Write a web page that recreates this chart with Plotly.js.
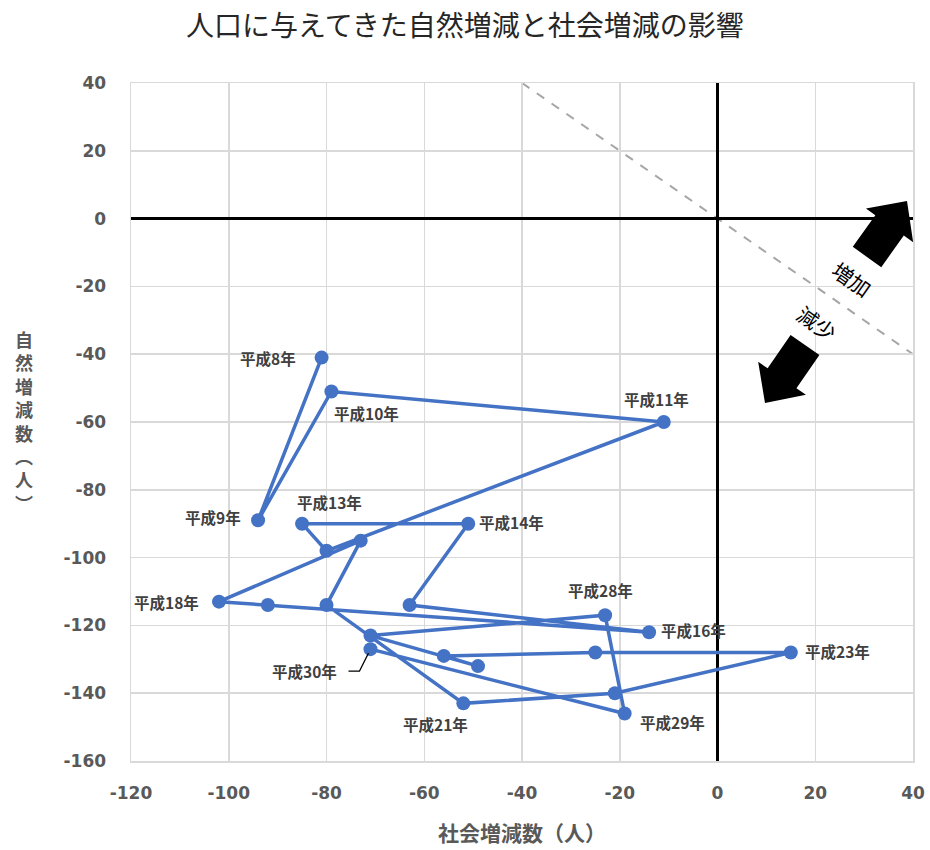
<!DOCTYPE html>
<html>
<head>
<meta charset="utf-8">
<script src="https://cdn.plot.ly/plotly-3.0.1.min.js"></script>
<style>
  html, body { margin: 0; padding: 0; background: #ffffff; }
  #chart { width: 930px; height: 850px; }
</style>
</head>
<body>
<div id="chart"></div>
<script>
// ---- data ----
const years = ['平成8年','平成9年','平成10年','平成11年','平成12年','平成13年','平成14年','平成15年',
  '平成16年','平成17年','平成18年','平成19年','平成20年','平成21年','平成22年','平成23年',
  '平成24年','平成25年','平成26年','平成27年','平成28年','平成29年','平成30年'];
const socialChange  = [-81, -94, -79, -11, -80, -85, -51, -63, -14, -92, -102, -73, -80, -52, -21, 15, -25, -56, -49, -71, -23, -19, -71];
const naturalChange = [-41, -89, -51, -60, -98, -90, -90, -114, -122, -114, -113, -95, -114, -143, -140, -128, -128, -129, -132, -123, -117, -146, -127];
const xTicks = [-120, -100, -80, -60, -40, -20, 0, 20, 40];
const yTicks = [40, 20, 0, -20, -40, -60, -80, -100, -120, -140, -160];
const guideStart = [-40, 40];
const guideEnd = [40, -40];

// ---- styling: label placement (anchor side, x offset px, y offset px downward) ----
const labelStyle = {
  '平成8年':  ['right', -25, 0],
  '平成9年':  ['right', -16, -3],
  '平成10年': ['left', 2, 22],
  '平成11年': ['center', -7, -23],
  '平成13年': ['center', 27, -22],
  '平成14年': ['left', 10, -2],
  '平成16年': ['left', 11, -2],
  '平成18年': ['right', -19, 0],
  '平成21年': ['right', 6, 21],
  '平成23年': ['left', 13, -2],
  '平成28年': ['center', -5, -25],
  '平成29年': ['left', 14, 8],
  '平成30年': ['right', -32, 22]
};

const CJK = '"Noto Sans CJK JP", "Noto Sans", sans-serif';
const NUM = '"DejaVu Sans", sans-serif';
const GRAY = '#595959';
const LABEL = { family: CJK, size: 15.5, color: '#404040', weight: 700 };

// plot area in pixels
const L = 131, R = 913, T = 83, B = 761;
const px2paperX = px => (px - L) / (R - L);
const px2paperY = py => (B - py) / (B - T);

function arrowPath(tail, tip, shaftW, headW, headL) {
  const dx = tip[0] - tail[0], dy = tip[1] - tail[1];
  const len = Math.hypot(dx, dy);
  const d = [dx / len, dy / len];
  const n = [-d[1], d[0]];
  const base = [tip[0] - d[0] * headL, tip[1] - d[1] * headL];
  const pts = [
    [tail[0] + n[0] * shaftW / 2, tail[1] + n[1] * shaftW / 2],
    [base[0] + n[0] * shaftW / 2, base[1] + n[1] * shaftW / 2],
    [base[0] + n[0] * headW / 2, base[1] + n[1] * headW / 2],
    tip,
    [base[0] - n[0] * headW / 2, base[1] - n[1] * headW / 2],
    [base[0] - n[0] * shaftW / 2, base[1] - n[1] * shaftW / 2],
    [tail[0] - n[0] * shaftW / 2, tail[1] - n[1] * shaftW / 2]
  ];
  return 'M ' + pts.map(p => px2paperX(p[0]).toFixed(5) + ',' + px2paperY(p[1]).toFixed(5)).join(' L ') + ' Z';
}

const trace = {
  type: 'scatter',
  mode: 'lines+markers',
  x: socialChange,
  y: naturalChange,
  text: years,
  line: { color: '#4472C4', width: 3.5 },
  marker: { color: '#4472C4', size: 14 },
  hoverinfo: 'text+x+y',
  cliponaxis: false,
  showlegend: false
};

const annotations = [];
years.forEach((yr, i) => {
  const s = labelStyle[yr];
  if (!s) return;
  annotations.push({
    x: socialChange[i], y: naturalChange[i], xref: 'x', yref: 'y',
    text: yr, showarrow: false, xanchor: s[0], yanchor: 'middle',
    xshift: s[1], yshift: -s[2], borderpad: 0, font: LABEL
  });
});
annotations.push(
  { x: px2paperX(852), y: px2paperY(279), xref: 'paper', yref: 'paper', text: '増加',
    showarrow: false, textangle: 35, xanchor: 'center', yanchor: 'middle',
    font: { family: CJK, size: 21, color: '#000000' } },
  { x: px2paperX(817), y: px2paperY(323), xref: 'paper', yref: 'paper', text: '減少',
    showarrow: false, textangle: 35, xanchor: 'center', yanchor: 'middle',
    font: { family: CJK, size: 21, color: '#000000' } },
  // vertical y-axis title, one character per line
  { x: px2paperX(24), y: px2paperY(421), xref: 'paper', yref: 'paper',
    text: ['自','然','増','減','数','︵','人','︶'].join('<br>'),
    showarrow: false, xanchor: 'center', yanchor: 'middle', align: 'center',
    font: { family: CJK, size: 18, color: GRAY, weight: 700 } }
);

const last = years.length - 1;
const shapes = [
  { type: 'line', xref: 'x', yref: 'y', x0: guideStart[0], y0: guideStart[1], x1: guideEnd[0], y1: guideEnd[1],
    line: { color: '#a6a6a6', width: 2, dash: 'dash' }, layer: 'below' },
  { type: 'path', xref: 'paper', yref: 'paper',
    path: arrowPath([867, 257], [907, 201], 35, 58, 30), fillcolor: '#000000', line: { width: 0 } },
  { type: 'path', xref: 'paper', yref: 'paper',
    path: arrowPath([805, 345], [765, 403], 35, 58, 30), fillcolor: '#000000', line: { width: 0 } },
  { type: 'path', xref: 'x', yref: 'y', xsizemode: 'pixel', ysizemode: 'pixel',
    xanchor: socialChange[last], yanchor: naturalChange[last],
    path: 'M -22,-22 L -11,-22 L -2,-4', line: { color: '#000000', width: 1.2 } }
];

const layout = {
  width: 930, height: 850,
  margin: { l: L, r: 930 - R, t: T, b: 850 - B, pad: 0 },
  paper_bgcolor: '#ffffff', plot_bgcolor: '#ffffff',
  title: { text: '人口に与えてきた自然増減と社会増減の影響', xref: 'container', x: 0.5, xanchor: 'center',
    yref: 'container', y: 1 - 26 / 850, yanchor: 'middle',
    font: { family: CJK, size: 28, color: '#262626' } },
  xaxis: {
    range: [-120, 40], tickvals: xTicks, ticktext: xTicks.map(String),
    showgrid: true, gridcolor: '#d9d9d9', gridwidth: 1.5,
    zeroline: true, zerolinecolor: '#000000', zerolinewidth: 3,
    showline: true, linecolor: '#d9d9d9', linewidth: 1.5, mirror: true,
    ticks: '', ticklabelstandoff: 16,
    tickfont: { family: NUM, size: 17, color: GRAY, weight: 700 },
    title: { text: '社会増減数（人）', standoff: 24, font: { family: CJK, size: 21, color: GRAY, weight: 700 } },
    fixedrange: true
  },
  yaxis: {
    range: [-160, 40], tickvals: yTicks, ticktext: yTicks.map(String),
    showgrid: true, gridcolor: '#d9d9d9', gridwidth: 1.5,
    zeroline: true, zerolinecolor: '#000000', zerolinewidth: 3,
    showline: true, linecolor: '#d9d9d9', linewidth: 1.5, mirror: true,
    ticks: '', ticklabelstandoff: 20,
    tickfont: { family: NUM, size: 17, color: GRAY, weight: 700 },
    fixedrange: true
  },
  annotations: annotations,
  shapes: shapes,
  showlegend: false
};

Plotly.newPlot('chart', [trace], layout, { displayModeBar: false, staticPlot: true });
</script>
</body>
</html>
